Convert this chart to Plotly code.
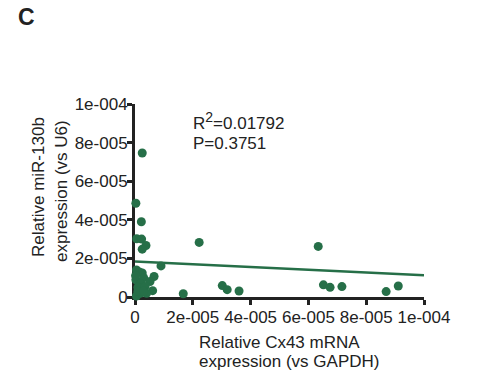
import plotly.graph_objects as go

# Data, units: relative expression
cx43 = [2.5e-6, 0.3e-6, 2.2e-6, 0.6e-6, 2.3e-6, 3.8e-6, 2.5e-6, 22.2e-6, 63.4e-6, 9.0e-6,
        65.2e-6, 67.5e-6, 71.6e-6, 86.9e-6, 91.1e-6, 30.2e-6, 31.9e-6, 36.0e-6, 16.7e-6,
        0.5e-6, 1.5e-6, 2.5e-6, 3.0e-6, 6.6e-6, 5.2e-6, 0.3e-6, 2.0e-6, 1.0e-6, 3.5e-6,
        6.1e-6, 4.0e-6, 0.5e-6, 2.0e-6, 1.0e-6, 0.2e-6, 3.0e-6]
mir130b = [74.6e-6, 48.6e-6, 39.0e-6, 30.2e-6, 30.0e-6, 26.7e-6, 24.8e-6, 28.3e-6, 26.2e-6, 16.1e-6,
           6.3e-6, 5.0e-6, 5.4e-6, 2.8e-6, 5.7e-6, 5.9e-6, 3.8e-6, 3.1e-6, 1.7e-6,
           14.0e-6, 13.0e-6, 12.5e-6, 10.0e-6, 10.6e-6, 8.0e-6, 8.9e-6, 7.0e-6, 5.0e-6, 5.5e-6,
           3.3e-6, 1.9e-6, 0.5e-6, 2.0e-6, 3.0e-6, 11.0e-6, 3.0e-6]
fit_x = [0.0, 1e-4]
fit_y = [1.84e-5, 1.13e-5]

tick_vals = [0, 2e-5, 4e-5, 6e-5, 8e-5, 1e-4]
tick_text = ["0", "2e-005", "4e-005", "6e-005", "8e-005", "1e-004"]

GREEN = "#266f48"
INK = "#222222"
FONT = "Liberation Sans, Arial, sans-serif"

# plot area geometry in pixels
L, R, T, B = 135, 424, 104, 297
W, H = 483, 385

def px(x):
    return (x - L) / (R - L)

def py(y):
    return (B - y) / (B - T)

fig = go.Figure()
fig.add_trace(go.Scatter(x=fit_x, y=fit_y, mode="lines",
                         line=dict(color=GREEN, width=2.5), showlegend=False,
                         cliponaxis=False))
fig.add_trace(go.Scatter(x=cx43, y=mir130b, mode="markers",
                         marker=dict(color=GREEN, size=9, line=dict(width=0)),
                         showlegend=False, cliponaxis=False))

axis_common = dict(showline=True, linewidth=3, linecolor=INK, ticks="outside",
                   ticklen=5, tickwidth=3, tickcolor=INK, showgrid=False, zeroline=False,
                   tickvals=tick_vals, ticktext=tick_text,
                   tickfont=dict(family=FONT, size=17, color=INK), layer="below traces")

fig.update_layout(
    width=W, height=H,
    margin=dict(l=L, r=W - R, t=T, b=H - B),
    paper_bgcolor="white", plot_bgcolor="white",
    xaxis=dict(range=[0, 1e-4], ticklabelstandoff=-2, **axis_common),
    yaxis=dict(range=[0, 1e-4], ticklabelstandoff=-4, **axis_common),
    font=dict(family=FONT, color=INK),
)

ann = [
    dict(text="<b>C</b>", x=px(16), y=py(17), xanchor="left", yanchor="middle", font=dict(size=23)),
    dict(text="R<sup><span style='font-size:14px'>2</span></sup>=0.01792", x=px(191), y=py(121),
         xanchor="left", yanchor="middle", font=dict(size=17)),
    dict(text="P=0.3751", x=px(191), y=py(143), xanchor="left", yanchor="middle", font=dict(size=17)),
    dict(text="Relative Cx43 mRNA", x=px(197), y=py(342), xanchor="left", yanchor="middle", font=dict(size=17)),
    dict(text="expression (vs GAPDH)", x=px(197), y=py(361), xanchor="left", yanchor="middle", font=dict(size=17)),
    dict(text="Relative miR-130b", x=px(38), y=py(187), xanchor="center", yanchor="middle",
         textangle=-90, font=dict(size=17)),
    dict(text="expression (vs U6)", x=px(61), y=py(191), xanchor="center", yanchor="middle",
         textangle=-90, font=dict(size=17)),
]
for a in ann:
    a.update(xref="paper", yref="paper", showarrow=False)
    a["font"].update(family=FONT, color=INK)
    fig.add_annotation(**a)

fig.write_html("out.html", config={"displayModeBar": False},
               post_script="document.body.style.margin='0px';")
